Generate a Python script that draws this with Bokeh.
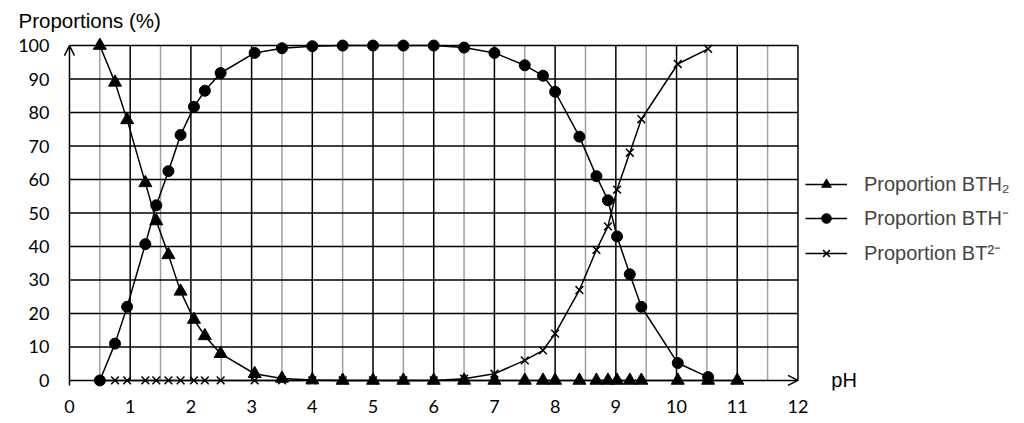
from bokeh.plotting import figure
from bokeh.models import (FixedTicker, Arrow, OpenHead, Label, Legend, LegendItem, Title)
from bokeh.embed import file_html
from bokeh.resources import INLINE

# ---------------- data ----------------
ph = [0.5, 0.75, 0.95, 1.25, 1.43, 1.63, 1.83, 2.05, 2.23, 2.49, 3.05, 3.5, 4.0,
      4.5, 5.0, 5.5, 6.0, 6.5, 7.0, 7.5, 7.8, 8.0, 8.4, 8.68, 8.87, 9.02, 9.23,
      9.42, 10.02, 10.52, 11.0]
bth2 = [100, 89, 77.8, 59, 47.6, 37.5, 26.6, 18.2, 13.3, 8, 2, 0.6, 0.1,
        0, 0, 0, 0, 0, 0, 0, 0, 0, 0, 0, 0, 0, 0,
        0, 0, 0, 0]
bth = [0, 11, 22, 40.7, 52.3, 62.5, 73.3, 81.7, 86.5, 91.8, 97.8, 99.2, 99.8,
       100, 100, 100, 100, 99.4, 97.8, 94.1, 91, 86.2, 72.8, 61, 53.8, 43, 31.7,
       22, 5.2, 1]
bt2 = [0, 0, 0, 0, 0, 0, 0, 0, 0, 0, 0, 0, 0,
       0, 0, 0, 0, 0.5, 2, 6, 9, 14, 27, 39, 46, 57, 68,
       78, 94.5, 99]
x_ticks = list(range(0, 13))
y_ticks = list(range(0, 101, 10))
labels = ["Proportion BTH\u2082", "Proportion BTH\u207b", "Proportion BT\u00b2\u207b"]

FONT = "Liberation Sans"
TICK_FONT = "Lato"

p = figure(width=1016, height=418, output_backend="svg", toolbar_location=None,
           x_range=(-0.115, 15.6), y_range=(-3, 103),
           min_border_left=62, min_border_right=0, min_border_top=35, min_border_bottom=28)
p.outline_line_color = None
p.xgrid.visible = False
p.ygrid.visible = False

# axes: labels only
for ax, ticks in ((p.xaxis[0], x_ticks), (p.yaxis[0], y_ticks)):
    ax.ticker = FixedTicker(ticks=ticks)
    ax.axis_line_color = None
    ax.major_tick_line_color = None
    ax.minor_tick_line_color = None
    ax.major_label_text_font = TICK_FONT
    ax.major_label_text_font_size = "18px"
    ax.major_label_text_color = "black"
p.xaxis.major_label_standoff = 3
p.yaxis.major_label_standoff = 7

# grid drawn inside the 0..12 x 0..100 box
x0, x1 = x_ticks[0], x_ticks[-1]
y0, y1 = y_ticks[0], y_ticks[-1]
half = [t + 0.5 for t in x_ticks[:-1]]
p.segment(x0=half, y0=[y0] * len(half), x1=half, y1=[y1] * len(half),
          line_color="#a0a0a0", line_width=1.5)
vx = x_ticks[1:]
p.segment(x0=vx, y0=[y0] * len(vx), x1=vx, y1=[y1] * len(vx),
          line_color="black", line_width=1.5)
hy = y_ticks[1:]
p.segment(x0=[x0] * len(hy), y0=hy, x1=[x1] * len(hy), y1=hy,
          line_color="black", line_width=1.5)

# axes with arrows
p.add_layout(Arrow(end=OpenHead(size=10, line_width=1.5, line_color="black"),
                   x_start=x0, y_start=y0, x_end=x1, y_end=y0,
                   line_width=1.5, line_color="black"))
p.add_layout(Arrow(end=OpenHead(size=10, line_width=1.5, line_color="black"),
                   x_start=x0, y_start=y0 - 1.5, x_end=x0, y_end=y1,
                   line_width=1.5, line_color="black"))

# series
l1 = p.line(ph, bth2, line_color="black", line_width=1.5)
m1 = p.scatter(ph, bth2, marker="triangle", size=13, color="black")
l2 = p.line(ph[:len(bth)], bth, line_color="black", line_width=1.5)
m2 = p.scatter(ph[:len(bth)], bth, marker="circle", size=11, color="black")
l3 = p.line(ph[:len(bt2)], bt2, line_color="black", line_width=1.5)
m3 = p.scatter(ph[:len(bt2)], bt2, marker="x", size=11, line_color="black", line_width=1.5)

legend = Legend(items=[LegendItem(label=labels[0], renderers=[l1, m1]),
                       LegendItem(label=labels[1], renderers=[l2, m2]),
                       LegendItem(label=labels[2], renderers=[l3, m3])],
                location=(743, 124), padding=0, margin=0, spacing=8,
                glyph_width=42, glyph_height=24, label_height=24, label_standoff=17,
                label_text_font=FONT, label_text_font_size="20px",
                border_line_color=None, background_fill_alpha=0)
p.add_layout(legend)

p.add_layout(Label(x=12.55, y=0, text="pH", text_baseline="middle", text_align="left",
                   text_font=FONT, text_font_size="20px", text_color="black"))

p.add_layout(Title(text="Proportions (%)", align="left", offset=-44, standoff=8,
                   text_font=FONT, text_font_size="20.5px", text_font_style="normal",
                   text_color="black"), "above")

open("out.html", "w").write(file_html(p, INLINE))
